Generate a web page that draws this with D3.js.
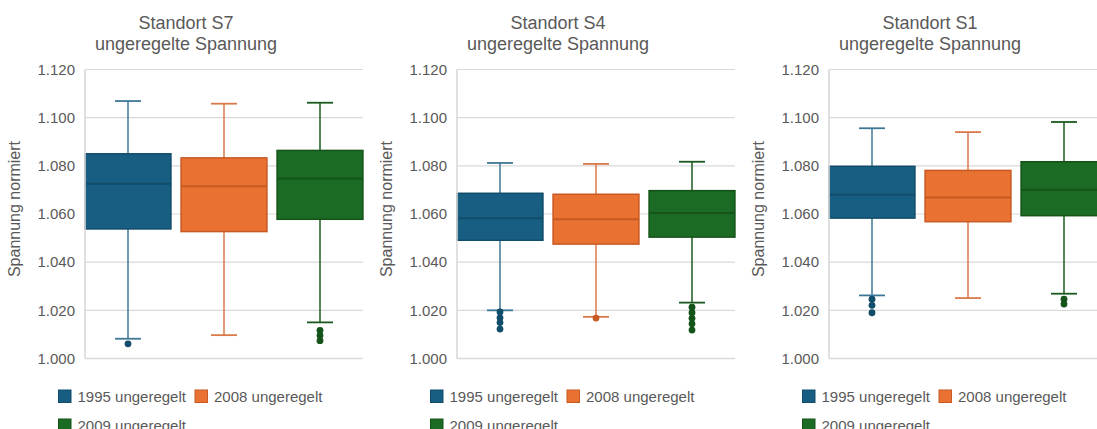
<!DOCTYPE html>
<html>
<head>
<meta charset="utf-8">
<script src="https://cdn.jsdelivr.net/npm/d3@7"></script>
<style>
  html, body { margin: 0; padding: 0; background: #fff; }
  svg { display: block; font-family: "Liberation Sans", Arial, sans-serif; }
</style>
</head>
<body>
<svg id="chart" width="1097" height="429"></svg>
<script>
// Sites (one panel each) and measurement series
const sites = ["Standort S7", "Standort S4", "Standort S1"];
const subtitle = "ungeregelte Spannung";
const series = ["1995 ungeregelt", "2008 ungeregelt", "2009 ungeregelt"];
const yTicks = [1.000, 1.020, 1.040, 1.060, 1.080, 1.100, 1.120];
const yLabel = "Spannung normiert";

// Box-plot statistics, per site (rows) and series (columns)
const whiskerLow  = [[1.0082, 1.0097, 1.0150], [1.0200, 1.0173, 1.0232], [1.0262, 1.0251, 1.0269]];
const quartile1   = [[1.0538, 1.0527, 1.0578], [1.0491, 1.0475, 1.0504], [1.0583, 1.0568, 1.0593]];
const medians     = [[1.0726, 1.0715, 1.0747], [1.0582, 1.0578, 1.0604], [1.0680, 1.0669, 1.0701]];
const quartile3   = [[1.0850, 1.0833, 1.0864], [1.0686, 1.0682, 1.0697], [1.0798, 1.0781, 1.0817]];
const whiskerHigh = [[1.1069, 1.1058, 1.1062], [1.0812, 1.0808, 1.0817], [1.0956, 1.0940, 1.0982]];
const outliers = [
  [[1.0061], [], [1.0117, 1.0096, 1.0074]],
  [[1.0193, 1.0169, 1.0149, 1.0122], [1.0168], [1.0213, 1.0190, 1.0167, 1.0144, 1.0118]],
  [[1.0246, 1.0221, 1.0190], [], [1.0246, 1.0226]]
];

const fills   = ["#175e82", "#e97132", "#1b6b24"];
const borders = ["#114c6a", "#c75a22", "#145419"];
const whiskerColors = ["#3e7795", "#d9794a", "#1a5a1f"];

const svg = d3.select("#chart");
const panelW = 372;
const axisOffset = 85;
const plotW = 278;

const y = d3.scaleLinear().domain([1.000, 1.120]).range([358.5, 69.5]);

sites.forEach((site, s) => {
  const px = s * panelW;
  const g = svg.append("g").attr("transform", `translate(${px},0)`);
  const ax = axisOffset;

  const x = d3.scaleBand()
    .domain(series)
    .range([ax - 5, ax + plotW + 5])
    .paddingInner(0.09)
    .paddingOuter(0.045);

  // Titles
  g.append("text")
    .attr("x", panelW / 2).attr("y", 29)
    .attr("text-anchor", "middle")
    .attr("font-size", 18).attr("fill", "#595959")
    .text(site);
  g.append("text")
    .attr("x", panelW / 2).attr("y", 50)
    .attr("text-anchor", "middle")
    .attr("font-size", 18).attr("fill", "#595959")
    .text(subtitle);

  // Horizontal gridlines
  g.append("g").selectAll("line").data(yTicks).join("line")
    .attr("x1", ax).attr("x2", ax + plotW)
    .attr("y1", d => y(d)).attr("y2", d => y(d))
    .attr("stroke", "#d9d9d9").attr("stroke-width", d => d === 1.0 ? 1.6 : 1.1);

  // Y axis tick labels
  const yAxis = d3.axisLeft(y).tickValues(yTicks).tickFormat(d3.format(".3f")).tickSize(0).tickPadding(10);
  const ya = g.append("g").attr("transform", `translate(${ax},0)`).call(yAxis);
  ya.select(".domain").remove();
  ya.selectAll("text")
    .attr("font-size", 15).attr("fill", "#595959")
    .attr("font-family", "Liberation Sans, Arial, sans-serif");

  // Y axis title
  g.append("text")
    .attr("transform", `translate(20,209) rotate(-90)`)
    .attr("text-anchor", "middle")
    .attr("font-size", 16).attr("fill", "#595959")
    .text(yLabel);

  // Boxes
  series.forEach((name, i) => {
    const cx = x(name) + x.bandwidth() / 2;
    const bw = x.bandwidth();
    const capW = 26;
    const bg = g.append("g");

    // whiskers
    bg.append("line")
      .attr("x1", cx).attr("x2", cx)
      .attr("y1", y(whiskerHigh[s][i])).attr("y2", y(quartile3[s][i]))
      .attr("stroke", whiskerColors[i]).attr("stroke-width", 1.5);
    bg.append("line")
      .attr("x1", cx).attr("x2", cx)
      .attr("y1", y(quartile1[s][i])).attr("y2", y(whiskerLow[s][i]))
      .attr("stroke", whiskerColors[i]).attr("stroke-width", 1.5);
    [whiskerHigh[s][i], whiskerLow[s][i]].forEach(v => {
      bg.append("line")
        .attr("x1", cx - capW / 2).attr("x2", cx + capW / 2)
        .attr("y1", y(v)).attr("y2", y(v))
        .attr("stroke", whiskerColors[i]).attr("stroke-width", 1.8);
    });

    // box
    bg.append("rect")
      .attr("x", cx - bw / 2 + 0.75).attr("width", bw - 1.5)
      .attr("y", y(quartile3[s][i])).attr("height", y(quartile1[s][i]) - y(quartile3[s][i]))
      .attr("fill", fills[i]).attr("stroke", borders[i]).attr("stroke-width", 1.5);
    // median
    bg.append("line")
      .attr("x1", cx - bw / 2 + 0.75).attr("x2", cx + bw / 2 - 0.75)
      .attr("y1", y(medians[s][i])).attr("y2", y(medians[s][i]))
      .attr("stroke", borders[i]).attr("stroke-width", 2);

    // outliers
    bg.selectAll("circle").data(outliers[s][i]).join("circle")
      .attr("cx", cx).attr("cy", d => y(d)).attr("r", 3.4)
      .attr("fill", borders[i]);
  });

  // Left axis line
  g.append("line")
    .attr("x1", ax).attr("x2", ax)
    .attr("y1", y(1.12)).attr("y2", y(1.0))
    .attr("stroke", "#d9d9d9").attr("stroke-width", 1.6);

  // Legend
  const legendPos = [[58, 389.5], [194.5, 389.5], [58, 418.5]];
  series.forEach((name, i) => {
    const [lx, ly] = legendPos[i];
    g.append("rect")
      .attr("x", lx + 0.5).attr("y", ly + 0.5).attr("width", 12.5).attr("height", 12.5)
      .attr("fill", fills[i]).attr("stroke", borders[i]).attr("stroke-width", 1);
    g.append("text")
      .attr("x", lx + 19.5).attr("y", ly + 12)
      .attr("font-size", 15).attr("fill", "#595959")
      .text(name);
  });
});
</script>
</body>
</html>
